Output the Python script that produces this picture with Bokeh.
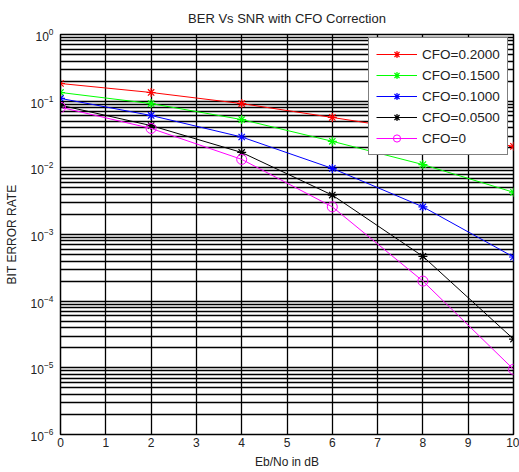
from bokeh.plotting import figure
from bokeh.models import FixedTicker, Legend, LegendItem, Range1d
from bokeh.embed import file_html
from bokeh.resources import INLINE

snr_db = [0, 2, 4, 6, 8, 10]
ber_cfo_0200 = [0.184, 0.135, 0.092, 0.057, 0.035, 0.021]
ber_cfo_0150 = [0.135, 0.092, 0.053, 0.025, 0.0112, 0.0043]
ber_cfo_0100 = [0.11, 0.061, 0.029, 0.0098, 0.0026, 0.00046]
ber_cfo_0050 = [0.087, 0.043, 0.017, 0.0039, 0.00047, 0.000027]
ber_cfo_0000 = [0.081, 0.039, 0.0134, 0.0026, 0.0002, 0.0000095]

series_labels = ["CFO=0.2000", "CFO=0.1500", "CFO=0.1000", "CFO=0.0500", "CFO=0"]
series_values = [ber_cfo_0200, ber_cfo_0150, ber_cfo_0100, ber_cfo_0050, ber_cfo_0000]
series_colors = ["#ff0000", "#00ff00", "#0000ff", "#000000", "#ff00ff"]
series_markers = ["asterisk", "asterisk", "asterisk", "asterisk", "circle"]

x_ticks = list(range(0, 11))
y_major = [10.0 ** e for e in range(-6, 1)]
y_minor = [m * 10.0 ** e for e in range(-6, 0) for m in range(2, 10)]

FONT = "Liberation Sans"
TXT = "#222222"

p = figure(width=519, height=472, y_axis_type="log", output_backend="svg",
           toolbar_location=None, x_range=Range1d(0, 10), y_range=Range1d(1e-6, 1),
           min_border_left=60, min_border_right=6, min_border_top=34, min_border_bottom=38)

p.title.text = "BER Vs SNR with CFO Correction"
p.title.align = "center"
p.title.text_font = FONT
p.title.text_font_style = "normal"
p.title.text_font_size = "13px"
p.title.text_color = TXT
p.title.standoff = 17

p.outline_line_color = "black"
p.outline_line_width = 1.5

p.xaxis.ticker = FixedTicker(ticks=x_ticks)
p.yaxis.ticker = FixedTicker(ticks=y_major, minor_ticks=y_minor)
p.ygrid.ticker = FixedTicker(ticks=y_major, minor_ticks=y_minor)
p.xgrid.ticker = FixedTicker(ticks=x_ticks)

for ax in (p.xaxis, p.yaxis):
    ax.major_label_text_font = FONT
    ax.major_label_text_font_size = "12px"
    ax.major_label_text_color = TXT
    ax.axis_label_text_font = FONT
    ax.axis_label_text_font_size = "12px"
    ax.axis_label_text_font_style = "normal"
    ax.axis_label_text_color = TXT
    ax.axis_line_color = "black"
    ax.major_tick_in = 4
    ax.major_tick_out = 0
    ax.minor_tick_in = 2
    ax.minor_tick_out = 0

p.xaxis.axis_label = "Eb/No in dB"
p.yaxis.axis_label = "BIT ERROR RATE"
p.xaxis.major_label_standoff = 3
p.xaxis.axis_label_standoff = 5
p.yaxis.major_label_standoff = 7
p.yaxis.axis_label_standoff = 9

p.xgrid.grid_line_color = "black"
p.xgrid.grid_line_width = 1.3
p.ygrid.grid_line_color = "black"
p.ygrid.grid_line_width = 1.3
p.ygrid.minor_grid_line_color = "black"
p.ygrid.minor_grid_line_width = 1.3

items = []
for lab, vals, col, mk in zip(series_labels, series_values, series_colors, series_markers):
    r_line = p.line(snr_db, vals, line_color=col, line_width=1)
    if mk == "circle":
        r_pt = p.scatter(snr_db, vals, marker="circle", size=10, line_color=col,
                         fill_color=None, line_width=1)
    else:
        r_pt = p.scatter(snr_db, vals, marker="asterisk", size=9, line_color=col, line_width=1.2)
    items.append(LegendItem(label=lab, renderers=[r_line, r_pt]))

legend = Legend(items=items, location=(308, 279))
legend.label_text_font = FONT
legend.label_text_font_size = "13.5px"
legend.label_text_color = TXT
legend.border_line_color = "black"
legend.border_line_width = 1.3
legend.background_fill_color = "white"
legend.background_fill_alpha = 1.0
legend.glyph_width = 41
legend.glyph_height = 18
legend.label_height = 18
legend.spacing = 3
legend.padding = 7
legend.label_standoff = 5
legend.margin = 0
p.add_layout(legend, "center")

open("out.html", "w").write(file_html(p, INLINE))
